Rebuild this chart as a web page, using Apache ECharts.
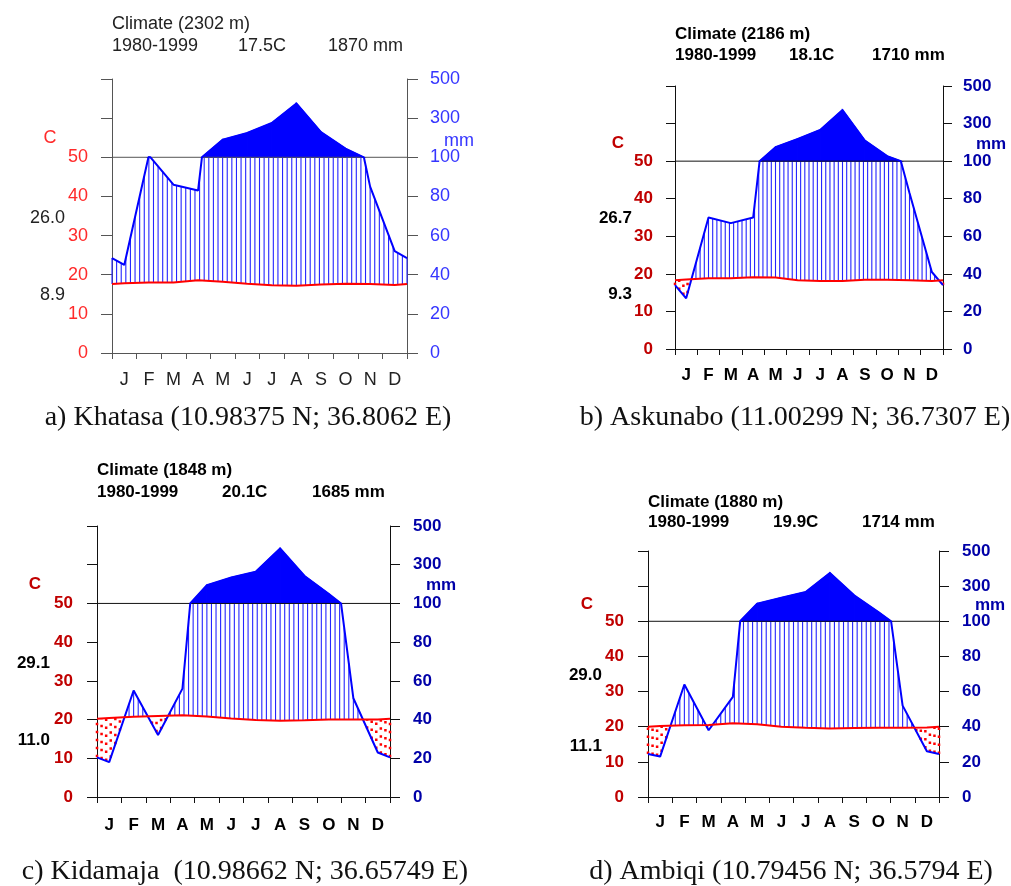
<!DOCTYPE html>
<html>
<head>
<meta charset="utf-8">
<title>Climate diagrams</title>
<script src="https://cdn.jsdelivr.net/npm/echarts@6/dist/echarts.min.js"></script>
<style>
  html, body { margin: 0; padding: 0; background: #fff; }
  #chart { width: 1011px; height: 886px; }
</style>
</head>
<body>
<div id="chart"></div>
<script>
// month letters on the x axis
const months = ["J", "F", "M", "A", "M", "J", "J", "A", "S", "O", "N", "D"];

// monthly mean temperature (C) and precipitation (mm)
const tempA = [17.8, 18.0, 18.0, 18.6, 18.2, 17.7, 17.3, 17.2, 17.5, 17.7, 17.6, 17.4];
const precA = [45, 101, 86, 83, 190, 224, 275, 375, 229, 144, 85, 52];
const tempB = [18.5, 18.8, 18.8, 19.1, 19.0, 18.3, 18.1, 18.1, 18.4, 18.4, 18.3, 18.1];
const precB = [27, 70, 67, 70, 174, 218, 266, 372, 210, 127, 83, 41];
const tempC = [20.4, 20.7, 20.9, 21.1, 20.8, 20.3, 19.9, 19.7, 19.8, 20.0, 20.0, 20.0];
const precC = [18, 55, 32, 56, 194, 234, 264, 384, 242, 148, 51, 23];
const tempD = [20.2, 20.4, 20.5, 21.0, 20.7, 20.0, 19.7, 19.5, 19.6, 19.7, 19.7, 19.8];
const precD = [23, 64, 38, 57, 200, 234, 267, 375, 248, 153, 52, 26];

// tick labels (axis runs 0..70 in temperature units)
const tempTickLabels = ["0", "10", "20", "30", "40", "50", "", ""];
const precTickLabels = ["0", "20", "40", "60", "80", "100", "300", "500"];

// header / side texts
const climateTitles = ["Climate (2302 m)", "Climate (2186 m)", "Climate (1848 m)", "Climate (1880 m)"];
const periods = ["1980-1999", "1980-1999", "1980-1999", "1980-1999"];
const meanTemps = ["17.5C", "18.1C", "20.1C", "19.9C"];
const annualPrec = ["1870 mm", "1710 mm", "1685 mm", "1714 mm"];
const maxTempLabels = ["26.0", "26.7", "29.1", "29.0"];
const minTempLabels = ["8.9", "9.3", "11.0", "11.1"];
const captions = [
  "a) Khatasa (10.98375 N; 36.8062 E)",
  "b) Askunabo (11.00299 N; 36.7307 E)",
  "c) Kidamaja  (10.98662 N; 36.65749 E)",
  "d) Ambiqi (10.79456 N; 36.5794 E)"
];

const temps = [tempA, tempB, tempC, tempD];
const precs = [precA, precB, precC, precD];

// panel placement (pixels)
const layouts = [
  { x0: 112, x1: 407, top: 79, y0: 353, tick: 11, gapL: 24, gapR: 23, gapX: 18,
    titleY: [24, 46], titleX: [112, 238, 328], cPos: [50, 138], mmPos: [444, 141],
    maxY: 218, minY: 295, numRight: 65, cap: [248, 418] },
  { x0: 675, x1: 943, top: 86, y0: 349, tick: 9, gapL: 22, gapR: 20, gapX: 18,
    titleY: [34, 55], titleX: [675, 789, 872], cPos: [618, 143], mmPos: [976, 144],
    maxY: 218, minY: 294, numRight: 632, cap: [795, 418] },
  { x0: 97, x1: 390, top: 526, y0: 797, tick: 10, gapL: 24, gapR: 23, gapX: 20,
    titleY: [470, 492], titleX: [97, 222, 312], cPos: [35, 584], mmPos: [426, 585],
    maxY: 663, minY: 740, numRight: 50, cap: [245, 872] },
  { x0: 648, x1: 939, top: 551, y0: 797, tick: 10, gapL: 24, gapR: 23, gapX: 17,
    titleY: [502, 522], titleX: [648, 773, 862], cPos: [587, 604], mmPos: [975, 605],
    maxY: 675, minY: 746, numRight: 602, cap: [791, 872] }
];

const styleA = { weight: "normal", size: 18, red: "#ff2a2a", blue: "#3535ff", ink: "#222", axis: "#555" };
const styleB = { weight: "bold", size: 17, red: "#c00000", blue: "#0000a8", ink: "#000", axis: "#111" };
const styles = [styleA, styleB, styleB, styleB];

// x positions: plot edges plus month centres
const xs = [0];
for (let m = 0; m < 12; m++) xs.push(m + 0.5);
xs.push(12);

// precipitation above 100 mm is compressed 1:20
function toScale(p) {
  return p <= 100 ? p / 2 : 50 + (p - 100) / 20;
}

function withEnds(v) {
  const e = (v[0] + v[11]) / 2;
  return [e].concat(v, [e]);
}

function lerp(v, x) {
  for (let i = 0; i < xs.length - 1; i++) {
    if (x <= xs[i + 1]) {
      const f = (x - xs[i]) / (xs[i + 1] - xs[i]);
      return v[i] + f * (v[i + 1] - v[i]);
    }
  }
  return v[v.length - 1];
}

// precipitation line, with the 100 mm crossings added so the scale break is exact
function precLine(p) {
  const v = withEnds(p);
  const pts = [];
  for (let i = 0; i < xs.length; i++) {
    pts.push([xs[i], toScale(v[i])]);
    if (i < xs.length - 1 && (v[i] - 100) * (v[i + 1] - 100) < 0) {
      const f = (100 - v[i]) / (v[i + 1] - v[i]);
      pts.push([xs[i] + f * (xs[i + 1] - xs[i]), 50]);
    }
  }
  return pts;
}

// pieces of the solid area above 100 mm: [xa, ya, xb, yb]
function wetPieces(pts) {
  const out = [];
  for (let i = 0; i < pts.length - 1; i++) {
    const a = pts[i], b = pts[i + 1];
    if (a[1] >= 50 && b[1] >= 50) out.push([a[0], a[1], b[0], b[1]]);
  }
  return out;
}

function renderWet(params, api) {
  const p1 = api.coord([api.value(0), 50]);
  const p2 = api.coord([api.value(0), api.value(1)]);
  const p3 = api.coord([api.value(2), api.value(3)]);
  const p4 = api.coord([api.value(2), 50]);
  return {
    type: "polygon",
    shape: { points: [p1, p2, p3, p4] },
    style: { fill: "#0000ff", stroke: "#0000ff", lineWidth: 1.2 }
  };
}

// hatching columns: [x, temperature, scaled precipitation]
function hatch(t, p) {
  const tv = withEnds(t), pv = withEnds(p);
  const out = [];
  for (let k = 0; k <= 64; k++) {
    const x = k * 12 / 64;
    out.push([x, lerp(tv, x), toScale(lerp(pv, x))]);
  }
  return out;
}

function renderHatch(params, api) {
  const x = api.value(0), t = api.value(1), p = api.value(2);
  if (Math.abs(p - t) < 0.05) return null;
  const wet = p > t;
  const a = api.coord([x, wet ? t : p]);
  const b = api.coord([x, wet ? Math.min(p, 50) : t]);
  return {
    type: "line",
    shape: { x1: a[0], y1: a[1], x2: b[0], y2: b[1] },
    style: wet
      ? { stroke: "#2424ff", lineWidth: 1.1 }
      : { stroke: "#ff0000", lineWidth: 2.5, lineDash: [2.5, 5.5] }
  };
}

const grid = [], xAxis = [], yAxis = [], series = [], graphic = [];

layouts.forEach((L, i) => {
  const S = styles[i];
  const font = S.weight + " " + S.size + "px 'Liberation Sans', Arial, sans-serif";
  grid.push({ left: L.x0, top: L.top, width: L.x1 - L.x0, height: L.y0 - L.top });

  xAxis.push({
    type: "category", gridIndex: i, data: months, boundaryGap: true,
    axisLine: { lineStyle: { color: S.axis, width: 1 } },
    axisTick: { show: true, length: 6, lineStyle: { color: S.axis } },
    axisLabel: { margin: L.gapX, color: S.ink, fontSize: S.size, fontWeight: S.weight,
      fontFamily: "Liberation Sans, Arial" },
    splitLine: { show: false }
  });
  xAxis.push({ type: "value", gridIndex: i, min: 0, max: 12, show: false });

  const yCommon = {
    type: "value", gridIndex: i, min: 0, max: 70, interval: 10,
    axisLine: { show: true, lineStyle: { color: S.axis, width: 1 } },
    axisTick: { show: true, length: L.tick, lineStyle: { color: S.axis } },
    splitLine: { show: false }
  };
  yAxis.push(Object.assign({}, yCommon, {
    position: "left",
    axisLabel: { margin: L.gapL, color: S.red, fontSize: S.size, fontWeight: S.weight,
      fontFamily: "Liberation Sans, Arial", formatter: v => tempTickLabels[v / 10] }
  }));
  yAxis.push(Object.assign({}, yCommon, {
    position: "right",
    axisLabel: { margin: L.gapR, color: S.blue, fontSize: S.size, fontWeight: S.weight,
      fontFamily: "Liberation Sans, Arial", formatter: v => precTickLabels[v / 10] }
  }));

  const xi = 2 * i + 1, yi = 2 * i;
  const pl = precLine(precs[i]);
  const tv = withEnds(temps[i]);

  series.push({
    type: "custom", xAxisIndex: xi, yAxisIndex: yi, renderItem: renderHatch,
    data: hatch(temps[i], precs[i]), z: 2, silent: true
  });
  series.push({
    type: "custom", xAxisIndex: xi, yAxisIndex: yi, renderItem: renderWet,
    data: wetPieces(pl), z: 3, silent: true
  });
  series.push({
    type: "line", xAxisIndex: xi, yAxisIndex: yi, symbol: "none",
    data: [[0, 50], [12, 50]], lineStyle: { color: S.axis, width: 1 }, z: 4, silent: true
  });
  series.push({
    type: "line", xAxisIndex: xi, yAxisIndex: yi, symbol: "none",
    data: pl, lineStyle: { color: "#0000ff", width: 2 }, z: 5, silent: true
  });
  series.push({
    type: "line", xAxisIndex: xi, yAxisIndex: yi, symbol: "none",
    data: xs.map((x, k) => [x, tv[k]]), lineStyle: { color: "#ff0000", width: 2 }, z: 6, silent: true
  });

  const txt = (text, x, y, align, fill, f) => graphic.push({
    type: "text", x: x, y: y, z: 10,
    style: { text: text, font: f || font, fill: fill, textAlign: align, textVerticalAlign: "middle" }
  });
  txt(climateTitles[i], L.titleX[0], L.titleY[0], "left", S.ink);
  txt(periods[i], L.titleX[0], L.titleY[1], "left", S.ink);
  txt(meanTemps[i], L.titleX[1], L.titleY[1], "left", S.ink);
  txt(annualPrec[i], L.titleX[2], L.titleY[1], "left", S.ink);
  txt("C", L.cPos[0], L.cPos[1], "center", S.red);
  txt("mm", L.mmPos[0], L.mmPos[1], "left", S.blue);
  txt(maxTempLabels[i], L.numRight, L.maxY, "right", S.ink);
  txt(minTempLabels[i], L.numRight, L.minY, "right", S.ink);
  txt(captions[i], L.cap[0], L.cap[1], "center", "#111", "28px 'Liberation Serif', 'Times New Roman', serif");
});

const chart = echarts.init(document.getElementById("chart"));
chart.setOption({
  animation: false,
  backgroundColor: "#fff",
  grid: grid,
  xAxis: xAxis,
  yAxis: yAxis,
  series: series,
  graphic: graphic
});
</script>
</body>
</html>
